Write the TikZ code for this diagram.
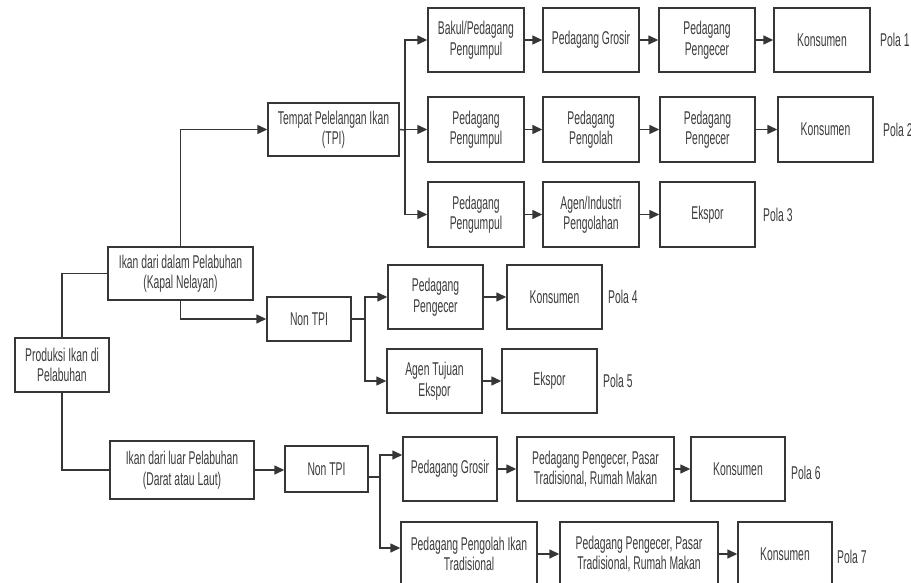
\documentclass[tikz,border=0pt]{standalone}
\usepackage{fontspec}
\setmainfont[FakeStretch=0.56]{Liberation Sans}
\usetikzlibrary{arrows.meta}
\definecolor{linec}{HTML}{363636}
\definecolor{textc}{HTML}{3C3C3C}
\tikzset{
  box/.style={draw=linec, line width=1.4pt, fill=white, text=textc, inner sep=0pt,
    align=center, font=\fontsize{18.5}{20.5}\selectfont},
  bx/.style n args={2}{minimum width=#1, minimum height=#2},
  pola/.style={anchor=west, inner sep=0pt, text=textc, font=\fontsize{18.5}{20.5}\selectfont},
  ln/.style={draw=linec, line width=1.4pt},
  arr/.style={ln, -{Triangle[length=10pt,width=9pt]}}
}
\begin{document}
\begin{tikzpicture}[x=1pt,y=-1pt]
\useasboundingbox (0,0) rectangle (911,583);
\clip (0,0) rectangle (911,583);
\fill[white] (0,0) rectangle (911,583);
% left part
\node[box, bx={94pt}{54pt}] (prod) at (62,365) {Produksi Ikan di\\Pelabuhan};
\node[box, bx={145pt}{53pt}] (dalam) at (180.5,273.5) {Ikan dari dalam Pelabuhan\\(Kapal Nelayan)};
\node[box, bx={144pt}{58pt}] (luar) at (182,470) {Ikan dari luar Pelabuhan\\(Darat atau Laut)};
\node[box, bx={131pt}{53pt}] (tpi) at (333.5,129.5) {Tempat Pelelangan Ikan\\(TPI)};
\node[box, bx={84pt}{44pt}] (non1) at (309,319) {Non TPI};
\node[box, bx={83pt}{46pt}] (non2) at (326.5,469) {Non TPI};
% row 1
\node[box, bx={96pt}{64pt}] (r1a) at (476,40) {Bakul/Pedagang\\Pengumpul};
\node[box, bx={96pt}{64pt}] (r1b) at (591,40) {Pedagang Grosir};
\node[box, bx={96pt}{64pt}] (r1c) at (707,40) {Pedagang\\Pengecer};
\node[box, bx={96pt}{64pt}] (r1d) at (822,40) {Konsumen};
\node[pola] (p1) at (880,40) {Pola 1};
% row 2
\node[box, bx={96pt}{65pt}] (r2a) at (476,129.5) {Pedagang\\Pengumpul};
\node[box, bx={96pt}{65pt}] (r2b) at (591,129.5) {Pedagang\\Pengolah};
\node[box, bx={95pt}{65pt}] (r2c) at (707.5,129.5) {Pedagang\\Pengecer};
\node[box, bx={95pt}{65pt}] (r2d) at (825.5,129.5) {Konsumen};
\node[pola] (p2) at (883,129.5) {Pola 2};
% row 3
\node[box, bx={96pt}{65pt}] (r3a) at (476,214.5) {Pedagang\\Pengumpul};
\node[box, bx={96pt}{65pt}] (r3b) at (591,214.5) {Agen/Industri\\Pengolahan};
\node[box, bx={95pt}{65pt}] (r3c) at (707.5,214.5) {Ekspor};
\node[pola] (p3) at (763,214.5) {Pola 3};
% row 4
\node[box, bx={95pt}{64pt}] (r4a) at (435.5,297) {Pedagang\\Pengecer};
\node[box, bx={95pt}{64pt}] (r4b) at (554.5,297) {Konsumen};
\node[pola] (p4) at (608,297) {Pola 4};
% row 5
\node[box, bx={95pt}{64pt}] (r5a) at (434.5,381) {Agen Tujuan\\Ekspor};
\node[box, bx={95pt}{64pt}] (r5b) at (549.5,381) {Ekspor};
\node[pola] (p5) at (603,381) {Pola 5};
% row 6
\node[box, bx={94pt}{64pt}] (r6a) at (450,469) {Pedagang Grosir};
\node[box, bx={157pt}{64pt}] (r6b) at (595.5,469) {Pedagang Pengecer, Pasar\\Tradisional, Rumah Makan};
\node[box, bx={94pt}{64pt}] (r6c) at (738,469) {Konsumen};
\node[pola] (p6) at (791,473) {Pola 6};
% row 7
\node[box, bx={136pt}{64pt}] (r7a) at (469,554) {Pedagang Pengolah Ikan\\Tradisional};
\node[box, bx={158pt}{64pt}] (r7b) at (639,554) {Pedagang Pengecer, Pasar\\Tradisional, Rumah Makan};
\node[box, bx={94pt}{64pt}] (r7c) at (785,554) {Konsumen};
\node[pola] (p7) at (837,557) {Pola 7};
% junction coordinates
\coordinate (j1) at (405,130);
\coordinate (j2) at (365,319);
\coordinate (j3) at (380,477);
% connectors, left
\draw[ln] (prod.north) |- (dalam.west);
\draw[ln] (prod.south) |- (luar.west);
\draw[arr] (dalam.north) |- (tpi.west);
\draw[arr] (dalam.south) |- (non1.west);
\draw[arr] (luar.east) -- (non2.west |- luar.east);
% TPI branch
\draw[ln] (tpi.east) -- (j1);
\draw[arr] (j1) |- (r1a.west);
\draw[arr] (j1) |- (r2a.west);
\draw[arr] (j1) |- (r3a.west);
% Non TPI 1 branch
\draw[ln] (non1.east) -- (j2);
\draw[arr] (j2) |- (r4a.west);
\draw[arr] (j2) |- (r5a.west);
% Non TPI 2 branch
\draw[ln] ([yshift=-8pt]non2.east) -- (j3);
\draw[arr] (j3) |- ([yshift=14pt]r6a.west);
\draw[arr] (j3) |- ([yshift=6pt]r7a.west);
% rows
\draw[arr] (r1a) -- (r1b); \draw[arr] (r1b) -- (r1c); \draw[arr] (r1c) -- (r1d);
\draw[arr] (r2a) -- (r2b); \draw[arr] (r2b) -- (r2c); \draw[arr] (r2c) -- (r2d);
\draw[arr] (r3a) -- (r3b); \draw[arr] (r3b) -- (r3c);
\draw[arr] (r4a) -- (r4b);
\draw[arr] (r5a) -- (r5b);
\draw[arr] (r6a) -- (r6b); \draw[arr] (r6b) -- (r6c);
\draw[arr] (r7a) -- (r7b); \draw[arr] (r7b) -- (r7c);
\end{tikzpicture}
\end{document}
